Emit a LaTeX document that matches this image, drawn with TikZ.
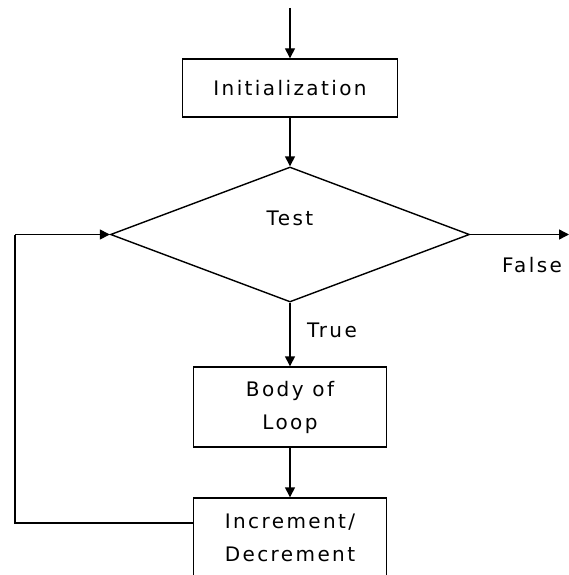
\documentclass[tikz,border=0pt]{standalone}
\usepackage{fontspec}
\setmainfont{DejaVu Sans}[LetterSpace=12]
\usetikzlibrary{shapes.geometric,arrows.meta}
\begin{document}
\begin{tikzpicture}[x=1pt,y=-1pt,
  every node/.style={font=\fontsize{20}{33}\selectfont},
  boxnode/.style={draw,line width=1.4pt,inner sep=0pt,align=center},
  flow/.style={line width=1.4pt,-{Triangle[length=10pt,width=10pt]}},
  plain/.style={line width=1.4pt}]
\useasboundingbox (0,0) rectangle (569,575);
\fill[white] (0,0) rectangle (569,575);
\coordinate (start) at (290,8);
\node[boxnode,minimum width=215pt,minimum height=58pt] (init) at (290,88) {Initialization};
\node[draw,line width=1.4pt,shape=diamond,inner sep=0pt,minimum width=359pt,minimum height=135pt] (test) at (290,234.5) {};
\node (testlbl) at (290,218) {Test};
\coordinate (falseend) at (569,234.5);
\node (falselbl) at (532,265) {False};
\node (truelbl) at (332,330) {True};
\node[boxnode,minimum width=193pt,minimum height=80pt] (body) at (290,407) {Body of\\Loop};
\node[boxnode,minimum width=193pt,minimum height=80pt] (inc) at (290,538) {Increment/\\Decrement};
\coordinate (loopcorner1) at (15,523);
\coordinate (loopcorner2) at (15,234.5);

\draw[flow] (start) -- (init.north);
\draw[flow] (init.south) -- (test.north);
\draw[flow] (test.east) -- (falseend);
\draw[flow] (test.south) -- (body.north);
\draw[flow] (body.south) -- (inc.north);
\draw[plain] (inc.west |- loopcorner1) -- (loopcorner1) -- (loopcorner2);
\draw[flow] (loopcorner2) -- (test.west);
\end{tikzpicture}
\end{document}
